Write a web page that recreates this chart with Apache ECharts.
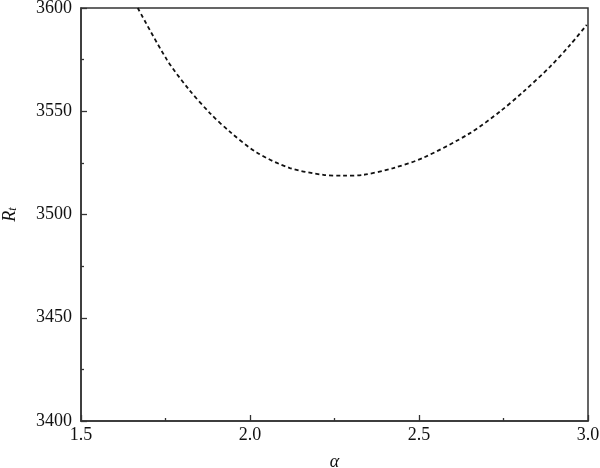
<!DOCTYPE html>
<html>
<head>
<meta charset="utf-8">
<script src="https://cdn.jsdelivr.net/npm/echarts@6/dist/echarts.min.js"></script>
<style>html,body{margin:0;padding:0;background:#fff}#c{width:600px;height:468px}</style>
</head>
<body>
<div id="c"></div>
<script>
const alpha = [1.668, 1.754, 1.817, 1.882, 1.941, 2.02, 2.118, 2.217, 2.275, 2.335, 2.424, 2.513, 2.651, 2.74, 2.809, 2.888, 2.947, 2.996];
const Rt    = [3600, 3575, 3561, 3549, 3540, 3530, 3522.5, 3519.2, 3518.8, 3519.2, 3522.5, 3527.5, 3539.4, 3549.9, 3559.5, 3571.6, 3582.1, 3591.8];
const xTicks = [1.5, 2.0, 2.5, 3.0];
const yTicks = [3400, 3450, 3500, 3550, 3600];

const font = 'Liberation Serif';
const chart = echarts.init(document.getElementById('c'));
chart.setOption({
  animation: false,
  grid: { left: 81, right: 12, top: 8, bottom: 47, outerBoundsMode: 'none', containLabel: false, show: true, borderColor: '#333', borderWidth: 1.5, backgroundColor: 'transparent' },
  xAxis: {
    type: 'value', min: xTicks[0], max: xTicks[xTicks.length-1], interval: 0.5,
    axisLine: { lineStyle: { color: '#333', width: 1.5 } },
    axisTick: { inside: true, length: 6, lineStyle: { color: '#333', width: 1.3 } },
    minorTick: { show: true, splitNumber: 2, length: 3, lineStyle: { color: '#333', width: 1.3 } },
    splitLine: { show: false },
    axisLabel: { color: '#111', fontFamily: font, fontSize: 18, margin: 5, formatter: v => v.toFixed(1) },
    name: 'α', nameLocation: 'middle', nameGap: 32,
    nameTextStyle: { color: '#111', fontFamily: font, fontSize: 18, fontStyle: 'italic' }
  },
  yAxis: {
    type: 'value', min: yTicks[0], max: yTicks[yTicks.length-1], interval: 50,
    axisLine: { show: true, lineStyle: { color: '#333', width: 1.5 } },
    axisTick: { show: true, inside: true, length: 6, lineStyle: { color: '#333', width: 1.3 } },
    minorTick: { show: true, splitNumber: 2, length: 3, lineStyle: { color: '#333', width: 1.3 } },
    splitLine: { show: false },
    axisLabel: { color: '#111', fontFamily: font, fontSize: 18, margin: 9, formatter: v => String(v) },
    name: '{r|R}{s|t}', nameLocation: 'middle', nameGap: 62, nameRotate: 90,
    nameTextStyle: {
      rich: {
        r: { color: '#111', fontFamily: font, fontSize: 18, fontStyle: 'italic' },
        s: { color: '#111', fontFamily: font, fontSize: 12, fontStyle: 'italic', verticalAlign: 'bottom', padding: [6, 0, 0, 0] }
      }
    }
  },
  series: [{
    type: 'line',
    data: alpha.map((a, i) => [a, Rt[i]]),
    smooth: 0.3,
    symbol: 'none',
    clip: true,
    lineStyle: { color: '#111', width: 1.8, type: [4, 3] }
  }]
});
</script>
</body>
</html>
